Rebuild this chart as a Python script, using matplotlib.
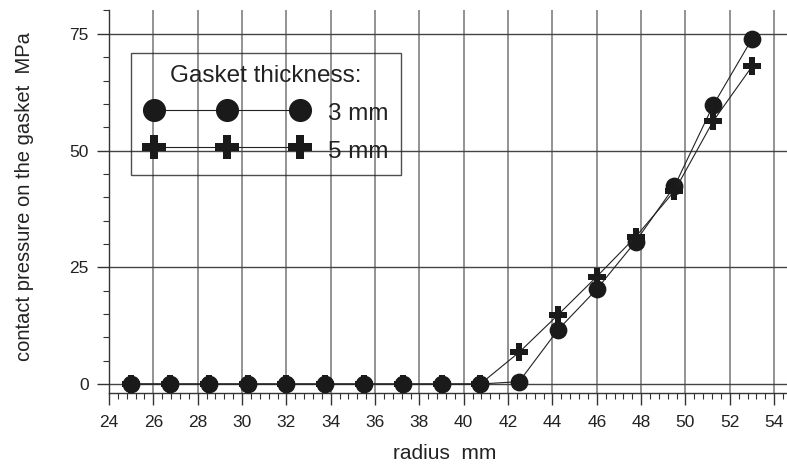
import matplotlib
matplotlib.use("Agg")
import matplotlib.pyplot as plt
from matplotlib.ticker import MultipleLocator
from matplotlib.lines import Line2D
from matplotlib.legend_handler import HandlerLine2D

plt.rcParams['font.family'] = ['Liberation Sans', 'DejaVu Sans']

radius = [25, 26.75, 28.5, 30.25, 32, 33.75, 35.5, 37.25, 39, 40.75,
          42.5, 44.25, 46, 47.75, 49.5, 51.25, 53]
p_3mm = [0, 0, 0, 0, 0, 0, 0, 0, 0, 0,
         0.5, 11.6, 20.3, 30.5, 42.3, 59.7, 73.9]
p_5mm = [0, 0, 0, 0, 0, 0, 0, 0, 0, 0,
         6.8, 14.8, 23.0, 31.5, 41.3, 56.3, 68.0]
xticks = list(range(24, 55, 2))
yticks = [0, 25, 50, 75]

fig = plt.figure(figsize=(7.87, 4.65), dpi=100)
ax = fig.add_axes([109/787, (465-393)/465, (787-109)/787, (393-10)/465])

ax.set_xlim(24, 54.58)
ax.set_ylim(-1.93, 80.1)

ax.set_xticks(xticks)
ax.set_yticks(yticks)
ax.xaxis.set_minor_locator(MultipleLocator(0.4))
ax.yaxis.set_minor_locator(MultipleLocator(5))

for s in ['top', 'right']:
    ax.spines[s].set_visible(False)
for s in ['left', 'bottom']:
    ax.spines[s].set_color('#333333')
    ax.spines[s].set_linewidth(1.0)

ax.tick_params(axis='both', which='major', direction='out', length=8.6,
               width=1.0, color='#333333', labelsize=12.5, labelcolor='#222222')
ax.tick_params(axis='both', which='minor', direction='out', length=4.6,
               width=0.8, color='#333333')
ax.tick_params(axis='x', which='major', pad=7)
ax.tick_params(axis='y', which='major', pad=6)

ax.xaxis.grid(True, which='major', color='#808080', linewidth=1.2)
ax.yaxis.grid(True, which='major', color='#444444', linewidth=1.0)
ax.set_axisbelow(True)

ax.plot(radius, p_3mm, color='#222222', linewidth=0.8, marker='o',
        markersize=12.8, markerfacecolor='#1a1a1a', markeredgecolor='#1a1a1a',
        markeredgewidth=0, label='3 mm', zorder=3)
ax.plot(radius, p_5mm, color='#222222', linewidth=0.8, marker='P',
        markersize=13, markerfacecolor='#1a1a1a', markeredgecolor='#1a1a1a',
        markeredgewidth=0, label='5 mm', zorder=3)

leg = ax.legend(loc='upper left', bbox_to_anchor=((131-109)/678, 0.888),
                borderaxespad=0, numpoints=3, handlelength=6.91,
                handleheight=1.2, fontsize=17.5,
                title='Gasket thickness:', title_fontsize=17.5,
                frameon=True, fancybox=False, handletextpad=0.7,
                labelspacing=0.5, borderpad=0.5, markerscale=1.3,
                handler_map={Line2D: HandlerLine2D(numpoints=3, marker_pad=0.45)})
leg.get_frame().set_edgecolor('#222222')
leg.get_frame().set_facecolor('none')
leg.get_frame().set_linewidth(1.0)
leg.get_title().set_color('#222222')
for t in leg.get_texts():
    t.set_color('#222222')

ax.set_xlabel('radius  mm', fontsize=15, color='#222222',
              va='center', ha='center')
ax.xaxis.set_label_coords(0.4956, -0.157)
ax.set_ylabel('contact pressure on the gasket  MPa', fontsize=14.5,
              color='#222222', va='center', ha='center')
ax.yaxis.set_label_coords((25-109)/678, 0.513)

fig.savefig('out.png', dpi=100)
